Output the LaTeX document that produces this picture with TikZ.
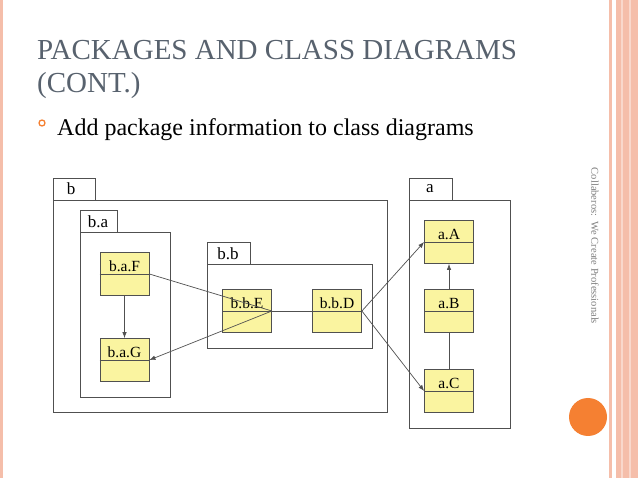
\documentclass[tikz,border=0pt]{standalone}
\usepackage{fontspec}
\setmainfont{Liberation Serif}
\usetikzlibrary{arrows.meta}
\definecolor{salmon}{RGB}{245,190,170}
\definecolor{titlec}{RGB}{88,98,110}
\definecolor{orng}{RGB}{245,128,50}
\definecolor{clsfill}{RGB}{250,244,160}
\definecolor{ln}{RGB}{80,80,80}
\begin{document}
\begin{tikzpicture}[x=1pt,y=-1pt,
  pkg/.style={draw=ln,line width=0.8pt,fill=none},
  cls/.style={draw=ln,line width=0.8pt,fill=clsfill,minimum width=49pt,minimum height=43pt,inner sep=0pt},
  ct/.style={font=\fontsize{15.5}{15.5}\selectfont,anchor=south,inner sep=2pt},
  pt/.style={font=\fontsize{17}{17}\selectfont,inner sep=0pt},
  con/.style={draw=ln,line width=0.7pt},
  arr/.style={con,-{Latex[length=6pt,width=4.5pt]}}]
\useasboundingbox (0,0) rectangle (638,478);
\fill[white] (0,0) rectangle (638,478);
% decorative borders
\fill[salmon] (0,0) rectangle (3,478);
\fill[salmon] (609,0) rectangle (612,478);
\fill[salmon] (616,0) rectangle (638,478);
\fill[salmon!60] (621,0) rectangle (623,478);
\fill[salmon!60] (629,0) rectangle (631,478);
% title
\node[anchor=base west,text=titlec,font=\fontsize{29}{29}\selectfont,inner sep=0pt] (t1) at (37,60) {PACKAGES AND CLASS DIAGRAMS};
\node[anchor=base west,text=titlec,font=\fontsize{29}{29}\selectfont,inner sep=0pt] (t2) at (37,93) {(CONT.)};
\node[draw=orng,line width=1.3pt,circle,minimum size=6pt,inner sep=0pt] (bul) at (42,123) {};
\node[anchor=base west,font=\fontsize{24}{24}\selectfont,inner sep=0pt] (t3) at (57,136) {Add package information to class diagrams};
% side text and circle
\node[rotate=-90,text=gray,font=\fontsize{10.5}{10.5}\selectfont,inner sep=0pt] (side) at (595,246) {Collaberos:\ \ We Create Professionals};
\fill[orng] (588,417) circle (19);
% packages
\draw[pkg] (53,178) rectangle (95,200);
\draw[pkg] (53,200) rectangle (387,412);
\node[pt] (lb) at (71,189) {b};
\draw[pkg] (80,210) rectangle (117,232);
\draw[pkg] (80,232) rectangle (170,397);
\node[pt] (lba) at (98,222) {b.a};
\draw[pkg] (207,242) rectangle (250,264);
\draw[pkg] (207,264) rectangle (372,348);
\node[pt] (lbb) at (228,254) {b.b};
\draw[pkg] (409,178) rectangle (452,200);
\draw[pkg] (409,200) rectangle (510,428);
\node[pt] (la) at (430,189) {a};
% classes
\foreach \n/\x/\y/\t in {F/124.5/274/b.a.F, G/124.5/360/b.a.G, E/247/311/b.b.E, D/337/311/b.b.D, A/449/242/a.A, B/449/311/a.B, C/449/391/a.C}{
  \node[cls] (\n) at (\x,\y) {};
  \draw[ln,line width=0.8pt] (\n.west) -- (\n.east);
  \node[ct] (\n t) at (\n.center) {\t};
}
% connectors
\draw[con] (F.east) -- (E.east);
\draw[arr] (E.east) -- (G.east);
\draw[con] (E.east) -- (D.west);
\draw[arr] (D.east) -- (A.west);
\draw[arr] (D.east) -- (C.west);
\draw[arr] (F.south) -- (G.north);
\draw[arr] (B.north) -- (A.south);
\draw[con] (C.north) -- (B.south);
\end{tikzpicture}
\end{document}
